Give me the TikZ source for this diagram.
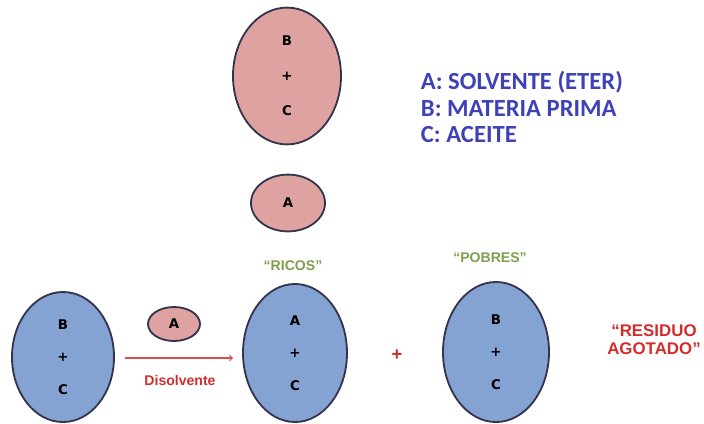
\documentclass[tikz,border=0pt]{standalone}
\usepackage{fontspec}
\setmainfont{Liberation Sans}
\newfontfamily\leyendafont{Carlito}
\newfontfamily\letrafont{DejaVu Sans}
\usepackage{xcolor}
\usetikzlibrary{shapes.geometric}
\definecolor{rosa}{RGB}{222,163,160}
\definecolor{azul}{RGB}{132,162,210}
\definecolor{borde}{RGB}{52,52,78}
\definecolor{leyenda}{RGB}{62,66,182}
\definecolor{oliva}{RGB}{128,158,78}
\definecolor{rojo}{RGB}{212,44,44}

\begin{document}
\begin{tikzpicture}[x=0.025cm, y=-0.025cm,
  fase/.style={ellipse, draw=borde, line width=1.3pt, inner sep=0pt, align=center, font=\letrafont\fontsize{9.5}{11}\selectfont\bfseries},
  etiqueta/.style={font=\fontsize{10}{12}\selectfont\bfseries, align=center}]
  \useasboundingbox (0,0) rectangle (704,423);
  \node[fase, fill=rosa, minimum width=2.7cm, minimum height=3.42cm] (bcarriba) at (287,76) {B\\[14pt]+\\[14pt]C};
  \node[fase, fill=rosa, minimum width=1.85cm, minimum height=1.42cm] (aarriba) at (288,203) {A};
  \node[font=\leyendafont\fontsize{17.5}{19}\selectfont\bfseries, text=leyenda, align=left, anchor=west] (leyenda) at (416,107) {A: SOLVENTE (ETER)\\B: MATERIA PRIMA\\C: ACEITE};
  \node[fase, fill=azul, minimum width=2.55cm, minimum height=3.25cm] (bcizq) at (63,357) {B\\[12pt]+\\[12pt]C};
  \node[fase, fill=rosa, minimum width=1.3cm, minimum height=0.85cm] (aizq) at (174,324) {A};
  \coordinate (ini) at (125,358);
  \coordinate (fin) at (233,358);
  \draw[rojo!85, line width=0.8pt, ->] (ini) -- (fin);
  \node[etiqueta, text=rojo] (disolvente) at (180,380) {Disolvente};
  \node[fase, fill=azul, minimum width=2.6cm, minimum height=3.45cm] (ricos) at (295,353) {A\\[12pt]+\\[12pt]C};
  \node[etiqueta, text=oliva] (lblricos) at (293,266) {``RICOS''};
  \node[font=\fontsize{13}{15}\selectfont\bfseries, text=rojo] (mas) at (397,355) {+};
  \node[fase, fill=azul, minimum width=2.65cm, minimum height=3.5cm] (pobres) at (496,352) {B\\[12pt]+\\[12pt]C};
  \node[etiqueta, text=oliva] (lblpobres) at (490,258) {``POBRES''};
  \node[etiqueta, text=rojo, font=\fontsize{12}{13}\selectfont\bfseries] (residuo) at (654,340) {``RESIDUO\\AGOTADO''};
\end{tikzpicture}
\end{document}
